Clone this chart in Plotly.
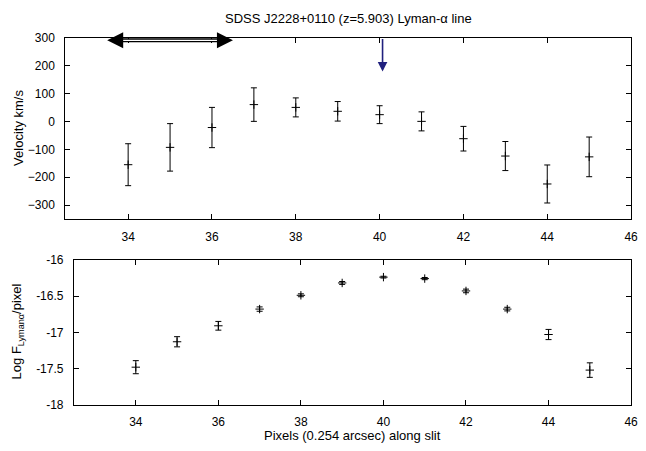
import plotly.graph_objects as go

# ---- data ----
pixels = [34, 35, 36, 37, 38, 39, 40, 41, 42, 43, 44, 45]
velocity = [-155, -93, -22, 60, 50, 36, 24, 0, -62, -124, -224, -127]
velocity_err = [75, 85, 72, 60, 34, 35, 32, 34, 44, 52, 68, 71]
log_flux = [-17.48, -17.13, -16.91, -16.68, -16.49, -16.32, -16.24, -16.26, -16.43, -16.68, -17.03, -17.52]
log_flux_err = [0.09, 0.07, 0.06, 0.03, 0.02, 0.02, 0.012, 0.015, 0.025, 0.025, 0.07, 0.10]
x_ticks = [34, 36, 38, 40, 42, 44, 46]
vel_ticks = [-300, -200, -100, 0, 100, 200, 300]
flux_ticks = [-18, -17.5, -17, -16.5, -16]
flux_tick_text = ["-18", "-17.5", "-17", "-16.5", "-16"]
span_arrow_x = [33.5, 36.5]
span_arrow_y = 290
line_marker_x = 40.07
line_marker_y = [300, 178]

W, H = 646, 451
font = "Liberation Sans, Arial, sans-serif"

fig = go.Figure()

err_style = dict(type="data", thickness=1, width=3, color="black")
mk = dict(symbol="cross-thin-open", size=6, color="black", line=dict(color="black", width=1))

fig.add_trace(go.Scatter(x=pixels, y=velocity, mode="markers",
                         error_y=dict(array=velocity_err, **err_style),
                         marker=mk, xaxis="x", yaxis="y", showlegend=False))
fig.add_trace(go.Scatter(x=pixels, y=log_flux, mode="markers",
                         error_y=dict(array=log_flux_err, **err_style),
                         marker=mk, xaxis="x2", yaxis="y2", showlegend=False))

ax_common = dict(showline=True, linecolor="black", linewidth=1, mirror="ticks",
                 ticks="inside", ticklen=5, tickwidth=1, tickcolor="black",
                 showgrid=False, zeroline=False,
                 tickfont=dict(family=font, size=12, color="black"))

fig.update_layout(
    width=W, height=H, margin=dict(l=0, r=0, t=0, b=0),
    paper_bgcolor="white", plot_bgcolor="white",
    xaxis=dict(domain=[66 / W, 638 / W], range=[32.5, 46], tickvals=x_ticks,
               anchor="y", ticklabelstandoff=6, **ax_common),
    yaxis=dict(domain=[(H - 219) / H, (H - 31.5) / H], range=[-350, 300], tickvals=vel_ticks,
               anchor="x", ticklabelstandoff=7, **ax_common),
    xaxis2=dict(domain=[74.7 / W, 638 / W], range=[32.5, 46], tickvals=x_ticks,
                anchor="y2", ticklabelstandoff=6, **ax_common),
    yaxis2=dict(domain=[(H - 410.7) / H, (H - 260.8) / H], range=[-18, -16], tickvals=flux_ticks,
                ticktext=flux_tick_text, anchor="x2", ticklabelstandoff=7, **ax_common),
)

# double-headed span arrow with hollow shaft
inset = 0.2
fig.add_shape(type="line", x0=span_arrow_x[0] + inset, x1=span_arrow_x[1] - inset,
              y0=span_arrow_y, y1=span_arrow_y, xref="x", yref="y", layer="above",
              line=dict(color="black", width=4))
fig.add_shape(type="line", x0=span_arrow_x[0] + inset, x1=span_arrow_x[1] - inset,
              y0=span_arrow_y, y1=span_arrow_y, xref="x", yref="y", layer="above",
              line=dict(color="white", width=1.3))
for head, sign in [(span_arrow_x[0], 1), (span_arrow_x[1], -1)]:
    fig.add_annotation(x=head, y=span_arrow_y, ax=head + sign * inset, ay=span_arrow_y,
                       xref="x", yref="y", axref="x", ayref="y", showarrow=True,
                       arrowhead=2, arrowsize=1.6, arrowwidth=2, arrowcolor="black", text="")

# blue line-position arrow
fig.add_annotation(x=line_marker_x, y=line_marker_y[1], ax=line_marker_x, ay=line_marker_y[0],
                   xref="x", yref="y", axref="x", ayref="y", showarrow=True, arrowhead=2,
                   arrowsize=1.2, arrowwidth=1.6, arrowcolor="#20207e", text="")

# titles
ann_font = dict(family=font, size=13, color="black")
fig.add_annotation(text="SDSS J2228+0110 (z=5.903) Lyman-α line", x=352 / W, y=1 - 12 / H,
                   xref="paper", yref="paper", showarrow=False, xanchor="center",
                   yanchor="middle", font=ann_font)
fig.add_annotation(text="Velocity km/s", x=18 / W, y=1 - 125 / H, xref="paper", yref="paper",
                   showarrow=False, textangle=-90, xanchor="center", yanchor="middle",
                   font=ann_font)
fig.add_annotation(text="Log F<sub>Lymanα</sub>/pixel", x=18 / W, y=1 - 335 / H,
                   xref="paper", yref="paper", showarrow=False, textangle=-90,
                   xanchor="center", yanchor="middle", font=ann_font)
fig.add_annotation(text="Pixels (0.254 arcsec) along slit", x=356 / W, y=1 - 442 / H,
                   xref="paper", yref="paper", showarrow=False, xanchor="center",
                   yanchor="middle", font=ann_font)

fig.write_html("out.html")
